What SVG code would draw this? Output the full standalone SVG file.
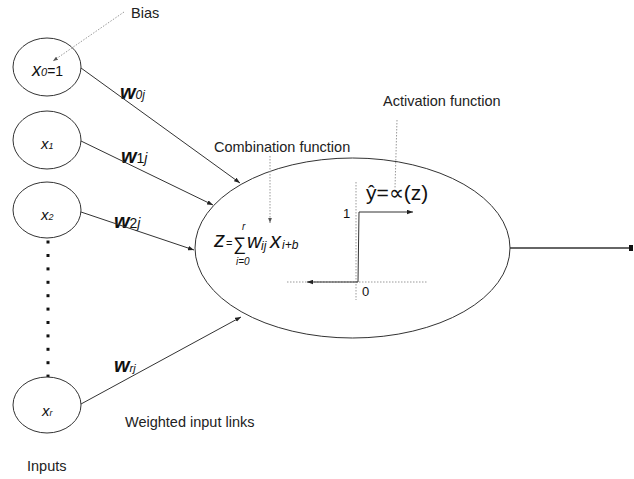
<svg xmlns="http://www.w3.org/2000/svg" width="634" height="479" viewBox="0 0 634 479">
<defs>
<style>
.node{fill:#fff;stroke:#333;stroke-width:1}
.edge{fill:none;stroke:#333;stroke-width:1}
.dot{fill:none;stroke:#999;stroke-width:1;stroke-dasharray:1.5 1.5}
.lbl{font-family:"Liberation Sans",Arial,sans-serif;font-size:14.5px;fill:#222}
.m{font-family:"Liberation Sans",Arial,sans-serif;font-style:italic;fill:#111}
.v{font-family:"Liberation Sans",Arial,sans-serif;fill:#111}
</style>
<marker id="ah" viewBox="0 0 8 6" refX="8" refY="3" markerWidth="6" markerHeight="5" orient="auto" markerUnits="userSpaceOnUse">
<path d="M0,0 L8,3 L0,6 z" fill="#222"/>
</marker>
<marker id="ahg" viewBox="0 0 8 6" refX="8" refY="3" markerWidth="5" markerHeight="4" orient="auto" markerUnits="userSpaceOnUse">
<path d="M0,0 L8,3 L0,6 z" fill="#555"/>
</marker>
</defs>

<g id="input-x0">
<ellipse class="node" cx="47" cy="67" rx="34" ry="29"/>
<text x="32" y="76" class="m" font-size="18">x<tspan font-size="11">0</tspan><tspan class="v" font-style="normal" font-size="14">=1</tspan></text>
</g>
<g id="input-x1">
<ellipse class="node" cx="47" cy="140" rx="34" ry="29"/>
<text x="41" y="149" class="m" font-size="15">x<tspan font-size="9">1</tspan></text>
</g>
<g id="input-x2">
<ellipse class="node" cx="47" cy="210" rx="34" ry="28"/>
<text x="41" y="220" class="m" font-size="15">x<tspan font-size="9">2</tspan></text>
</g>
<g id="dots" fill="#111">
<rect x="46.5" y="240.5" width="3" height="3"/>
<rect x="46.5" y="254" width="3" height="3"/>
<rect x="46.5" y="267.4" width="3" height="3"/>
<rect x="46.5" y="280.8" width="3" height="3"/>
<rect x="46.5" y="294.2" width="3" height="3"/>
<rect x="46.5" y="307.6" width="3" height="3"/>
<rect x="46.5" y="321" width="3" height="3"/>
<rect x="46.5" y="334.4" width="3" height="3"/>
<rect x="46.5" y="347.8" width="3" height="3"/>
<rect x="46.5" y="361.2" width="3" height="3"/>
<rect x="46.5" y="374.6" width="3" height="3"/>
</g>
<g id="input-xr">
<ellipse class="node" cx="47" cy="405" rx="34" ry="28"/>
<text x="42" y="416" class="m" font-size="15">x<tspan font-size="9">r</tspan></text>
</g>

<g id="neuron">
<ellipse class="node" cx="352.5" cy="248" rx="157.5" ry="90"/>
<text x="214" y="247" class="m" font-size="22">z</text>
<text x="226" y="247" class="v" font-size="11">=</text>
<text x="233" y="250" class="v" font-size="18">∑</text>
<text x="242" y="230" class="m" font-size="10">r</text>
<text x="236" y="265" class="m" font-size="10">i=0</text>
<text x="247" y="248" class="m" font-size="20">w</text>
<text x="261" y="250" class="m" font-size="12">ij</text>
<text x="270" y="248" class="m" font-size="22">x</text>
<text x="282" y="249" class="m" font-size="12">i+b</text>
<text x="366" y="200" class="v" font-size="21">ŷ=∝(z)</text>
<line class="dot" x1="356" y1="182" x2="356" y2="300"/>
<line class="dot" x1="287" y1="282" x2="428" y2="282"/>
<polyline class="edge" points="358,282 359,212 413,212" marker-end="url(#ah)"/>
<line class="edge" x1="358" y1="282" x2="307" y2="282" marker-end="url(#ah)"/>
<text x="343" y="218" class="v" font-size="13">1</text>
<text x="362" y="296" class="v" font-size="13">0</text>
</g>

<g id="weights">
<text x="120" y="99" class="m" font-size="20" font-weight="bold">w<tspan font-size="12" font-weight="normal">0j</tspan></text>
<text x="121" y="163" class="m" font-size="20" font-weight="bold">w<tspan font-size="14" font-weight="normal" font-style="normal">1</tspan><tspan font-size="14" font-weight="normal">j</tspan></text>
<text x="114" y="228" class="m" font-size="20" font-weight="bold">w<tspan font-size="14" font-weight="normal" font-style="normal">2</tspan><tspan font-size="14" font-weight="normal">j</tspan></text>
<text x="114" y="372" class="m" font-size="20" font-weight="bold">w<tspan font-size="11" font-weight="normal">rj</tspan></text>
</g>

<g id="labels">
<text x="131" y="18" class="lbl">Bias</text>
<text x="214" y="152" class="lbl">Combination function</text>
<text x="383" y="106" class="lbl">Activation function</text>
<text x="125" y="427" class="lbl">Weighted input links</text>
<text x="27" y="471" class="lbl">Inputs</text>
</g>

<g id="connectors">
<line class="edge" x1="81" y1="68" x2="240" y2="183" marker-end="url(#ah)"/>
<line class="edge" x1="81" y1="141" x2="213" y2="205" marker-end="url(#ah)"/>
<line class="edge" x1="81" y1="212" x2="194" y2="250" marker-end="url(#ah)"/>
<line class="edge" x1="81" y1="404" x2="241" y2="317" marker-end="url(#ah)"/>
<line x1="510" y1="248" x2="630" y2="248" stroke="#333" stroke-width="1.6"/>
<rect x="629" y="245" width="4" height="6" fill="#111"/>
<line class="dot" x1="124" y1="12" x2="53" y2="61" marker-end="url(#ahg)"/>
<line class="dot" x1="270" y1="156" x2="270" y2="223" marker-end="url(#ahg)"/>
<line class="dot" x1="397" y1="120" x2="395" y2="188"/>
</g>
</svg>
